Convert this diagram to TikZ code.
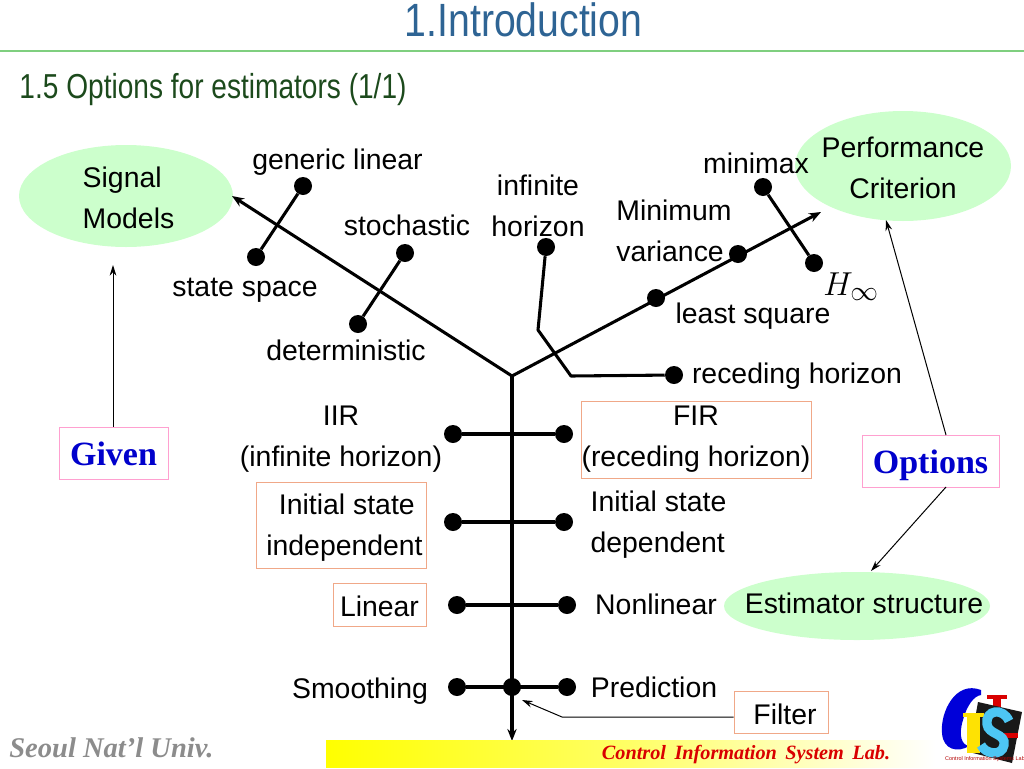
\documentclass[tikz,border=0pt]{standalone}
\usepackage{fontspec}
\setmainfont{Liberation Sans}
\newfontfamily\serifl{Liberation Serif}
\usetikzlibrary{arrows.meta,shapes.geometric}
\definecolor{titleblue}{HTML}{2E6494}
\definecolor{subgreen}{HTML}{1C4A1C}
\definecolor{rulegreen}{HTML}{7FCF7F}
\definecolor{ellgreen}{HTML}{CCFFCC}
\definecolor{boxorange}{HTML}{F0A888}
\definecolor{boxpink}{HTML}{FFA0D0}
\tikzset{
  lbl/.style={inner sep=0pt,align=left,font=\fontsize{21.3}{31}\selectfont},
  clbl/.style={lbl,align=center},
  dot/.style={circle,fill=black,inner sep=0pt,minimum size=18pt*0.75},
  branch/.style={line width=2.3pt,black},
  thin arrow/.style={line width=0.75pt,-{Stealth[length=8pt,width=5pt]}},
  thick arrow/.style={branch,-{Stealth[length=9pt,width=7pt]}},
  oval/.style={ellipse,fill=ellgreen,draw=none,inner sep=0pt},
  orangebox/.style={draw=boxorange,line width=0.75pt,fill=white,inner sep=0pt},
  pinkbox/.style={draw=boxpink,line width=0.75pt,fill=white,inner sep=0pt},
  serifbold/.style={inner sep=0pt,text=blue!80!black,font=\fontsize{25.5}{30}\selectfont\serifl\bfseries}
}
\begin{document}
\begin{tikzpicture}[x=0.75pt,y=-0.75pt]
\useasboundingbox (0,0) rectangle (1024,768);
% header
\node[inner sep=0pt,text=titleblue,font=\fontsize{35}{38}\selectfont] (title) at (523.5,20) {\scalebox{.84}[1]{1.Introduction}};
\coordinate (ruleL) at (0,51); \coordinate (ruleR) at (1024,51);
\draw[rulegreen,line width=0.9pt] (ruleL) -- (ruleR);
\node[inner sep=0pt,text=subgreen,font=\fontsize{26}{30}\selectfont] (sub) at (213,90) {\scalebox{.81}[1]{1.5 Options for estimators (1/1)}};
% ovals
\node[oval,minimum width=214*0.75pt,minimum height=102*0.75pt] (ovS) at (126,196) {};
\node[oval,minimum width=216*0.75pt,minimum height=110*0.75pt] (ovP) at (903,166) {};
\node[oval,minimum width=266*0.75pt,minimum height=68*0.75pt] (ovE) at (857,606) {};
\node[lbl] (tS) at (128.5,198) {Signal\\Models};
\node[clbl] (tP) at (903,168) {Performance\\Criterion};
\node[clbl] (tE) at (864,603) {Estimator structure};
% boxes
\node[orangebox,minimum width=230*0.75pt,minimum height=77*0.75pt] (bFIR) at (696,439.5) {};
\node[orangebox,minimum width=170*0.75pt,minimum height=86*0.75pt] (bInd) at (341,525) {};
\node[orangebox,minimum width=93*0.75pt,minimum height=43*0.75pt] (bLin) at (379.5,604.5) {};
\node[orangebox,minimum width=94*0.75pt,minimum height=42*0.75pt] (bFil) at (781,712) {};
\node[pinkbox,minimum width=109*0.75pt,minimum height=52*0.75pt] (bGiven) at (113.5,453) {};
\node[pinkbox,minimum width=137*0.75pt,minimum height=52*0.75pt] (bOpt) at (930.5,461) {};
% dots
\node[dot] (dGen) at (303,186) {};
\node[dot] (dSS) at (256,257) {};
\node[dot] (dSto) at (405,253) {};
\node[dot] (dDet) at (358,324) {};
\node[dot] (dInf) at (546,247) {};
\node[dot] (dRec) at (674,375) {};
\node[dot] (dLS) at (656,298) {};
\node[dot] (dMV) at (738,254) {};
\node[dot] (dMM) at (763,187) {};
\node[dot] (dHi) at (814,263) {};
\node[dot] (dIIR) at (453,434) {};
\node[dot] (dFIR) at (564,434) {};
\node[dot] (dISI) at (453,522) {};
\node[dot] (dISD) at (564,522) {};
\node[dot] (dLin) at (457,605) {};
\node[dot] (dNon) at (567,605) {};
\node[dot] (dSmo) at (457,687) {};
\node[dot] (dPre) at (567,687) {};
\node[dot] (dFil) at (512,687) {};
% tree
\coordinate (root) at (512,376);
\coordinate (endS) at (232,196);
\coordinate (endP) at (821,212);
\coordinate (endD) at (512,741);
\coordinate (k1) at (538,330);
\coordinate (k2) at (571,376);
\draw[thick arrow] (root) -- (endS);
\draw[thick arrow] (root) -- (endP);
\draw[thick arrow] (root) -- (endD);
\draw[branch] (dGen) -- (dSS);
\draw[branch] (dSto) -- (dDet);
\draw[branch,line join=round] (dInf) -- (k1) -- (k2) -- (dRec);
\draw[branch] (dMM) -- (dHi);
\draw[branch] (dIIR) -- (dFIR);
\draw[branch] (dISI) -- (dISD);
\draw[branch] (dLin) -- (dNon);
\draw[branch] (dSmo) -- (dPre);
% thin arrows
\coordinate (fk1) at (562,717);
\coordinate (fEnd) at (522,700);
\coordinate (gEnd) at (113,265);
\draw[thin arrow] (bGiven.north -| gEnd) -- (gEnd);
\coordinate (oT) at (946,435); \coordinate (oB) at (946,487);
\coordinate (oTe) at (886,220); \coordinate (oBe) at (871,571);
\draw[thin arrow] (oT) -- (oTe);
\draw[thin arrow] (oB) -- (oBe);
\draw[thin arrow] (bFil.west |- fk1) -- (fk1) -- (fEnd);
% labels
\node[lbl] (l1) at (337.5,162) {generic linear};
\node[lbl] (l2) at (245,290) {state space};
\node[lbl] (l3) at (407,225) {stochastic};
\node[lbl] (l4) at (346,350) {deterministic};
\node[clbl] (l5) at (538,206) {infinite\\horizon};
\node[lbl] (l6) at (674,231) {Minimum\\variance};
\node[lbl] (l7) at (756,163.5) {minimax};
\node[lbl] (l8) at (753,316) {least square};
\node[inner sep=0pt,font=\fontsize{28}{32}\selectfont] (l9) at (851,287) {$H_\infty$};
\node[lbl] (l10) at (797,376) {receding horizon};
\node[clbl] (l11) at (341,439) {IIR\\(infinite horizon)};
\node[clbl] (l12) at (696,439) {FIR\\(receding horizon)};
\node[clbl] (l13) at (344.5,527.5) {\,Initial state\\independent};
\node[lbl] (l14) at (658.5,524.5) {Initial state\\dependent};
\node[lbl] (l15) at (379.5,606) {Linear};
\node[lbl] (l16) at (656,604) {Nonlinear};
\node[lbl] (l17) at (360,691) {Smoothing};
\node[lbl] (l18) at (654,687) {Prediction};
\node[lbl] (l19) at (785,714) {Filter};
\node[serifbold] (tGiven) at (113.5,454) {Given};
\node[serifbold] (tOpt) at (930.5,465) {Options};
% footer
\shade[left color=yellow,right color=white,middle color=yellow!60] (326,740) rectangle (935,767);
\node[inner sep=0pt,text=red!85!black,font=\fontsize{15.2}{17}\selectfont\serifl\bfseries\itshape] (lab) at (746,754.5) {Control\, Information\, System\, Lab.};
\node[inner sep=0pt,text=black!45,font=\fontsize{21.4}{24}\selectfont\serifl\bfseries\itshape] (seoul) at (111.5,748) {Seoul Nat’l Univ.};
% logo
\fill[blue!85!black] (981,690) .. controls (955,680) and (940,713) .. (942,733) .. controls (943,750) and (958,753) .. (969,746) .. controls (962,745) and (958,736) .. (963,720) .. controls (967,705) and (974,696) .. (981,695) -- cycle;
\fill[red!85!black] (987,695) rectangle (1007,699);
\fill[red!85!black] (993,695) rectangle (1001,735);
\fill[black!90] (978,702) -- (1022,712) -- (1012,763) -- (969,752) -- cycle;
\fill[red!85!black] (1000,733) rectangle (1018,738);
\fill[yellow!85!orange] (963,713) rectangle (984,717);
\fill[yellow!85!orange] (967,713) rectangle (980,753);
\draw[cyan!70!white,line width=7pt] (1009,721) .. controls (1003,707) and (985,710) .. (987,724) .. controls (988,735) and (1006,733) .. (1004,745) .. controls (1002,757) and (985,754) .. (981,745);
\node[inner sep=0pt,text=red!70!black,font=\fontsize{4.1}{5}\selectfont] (cis) at (985,759.5) {Control Information Systems Lab};
\end{tikzpicture}
\end{document}
